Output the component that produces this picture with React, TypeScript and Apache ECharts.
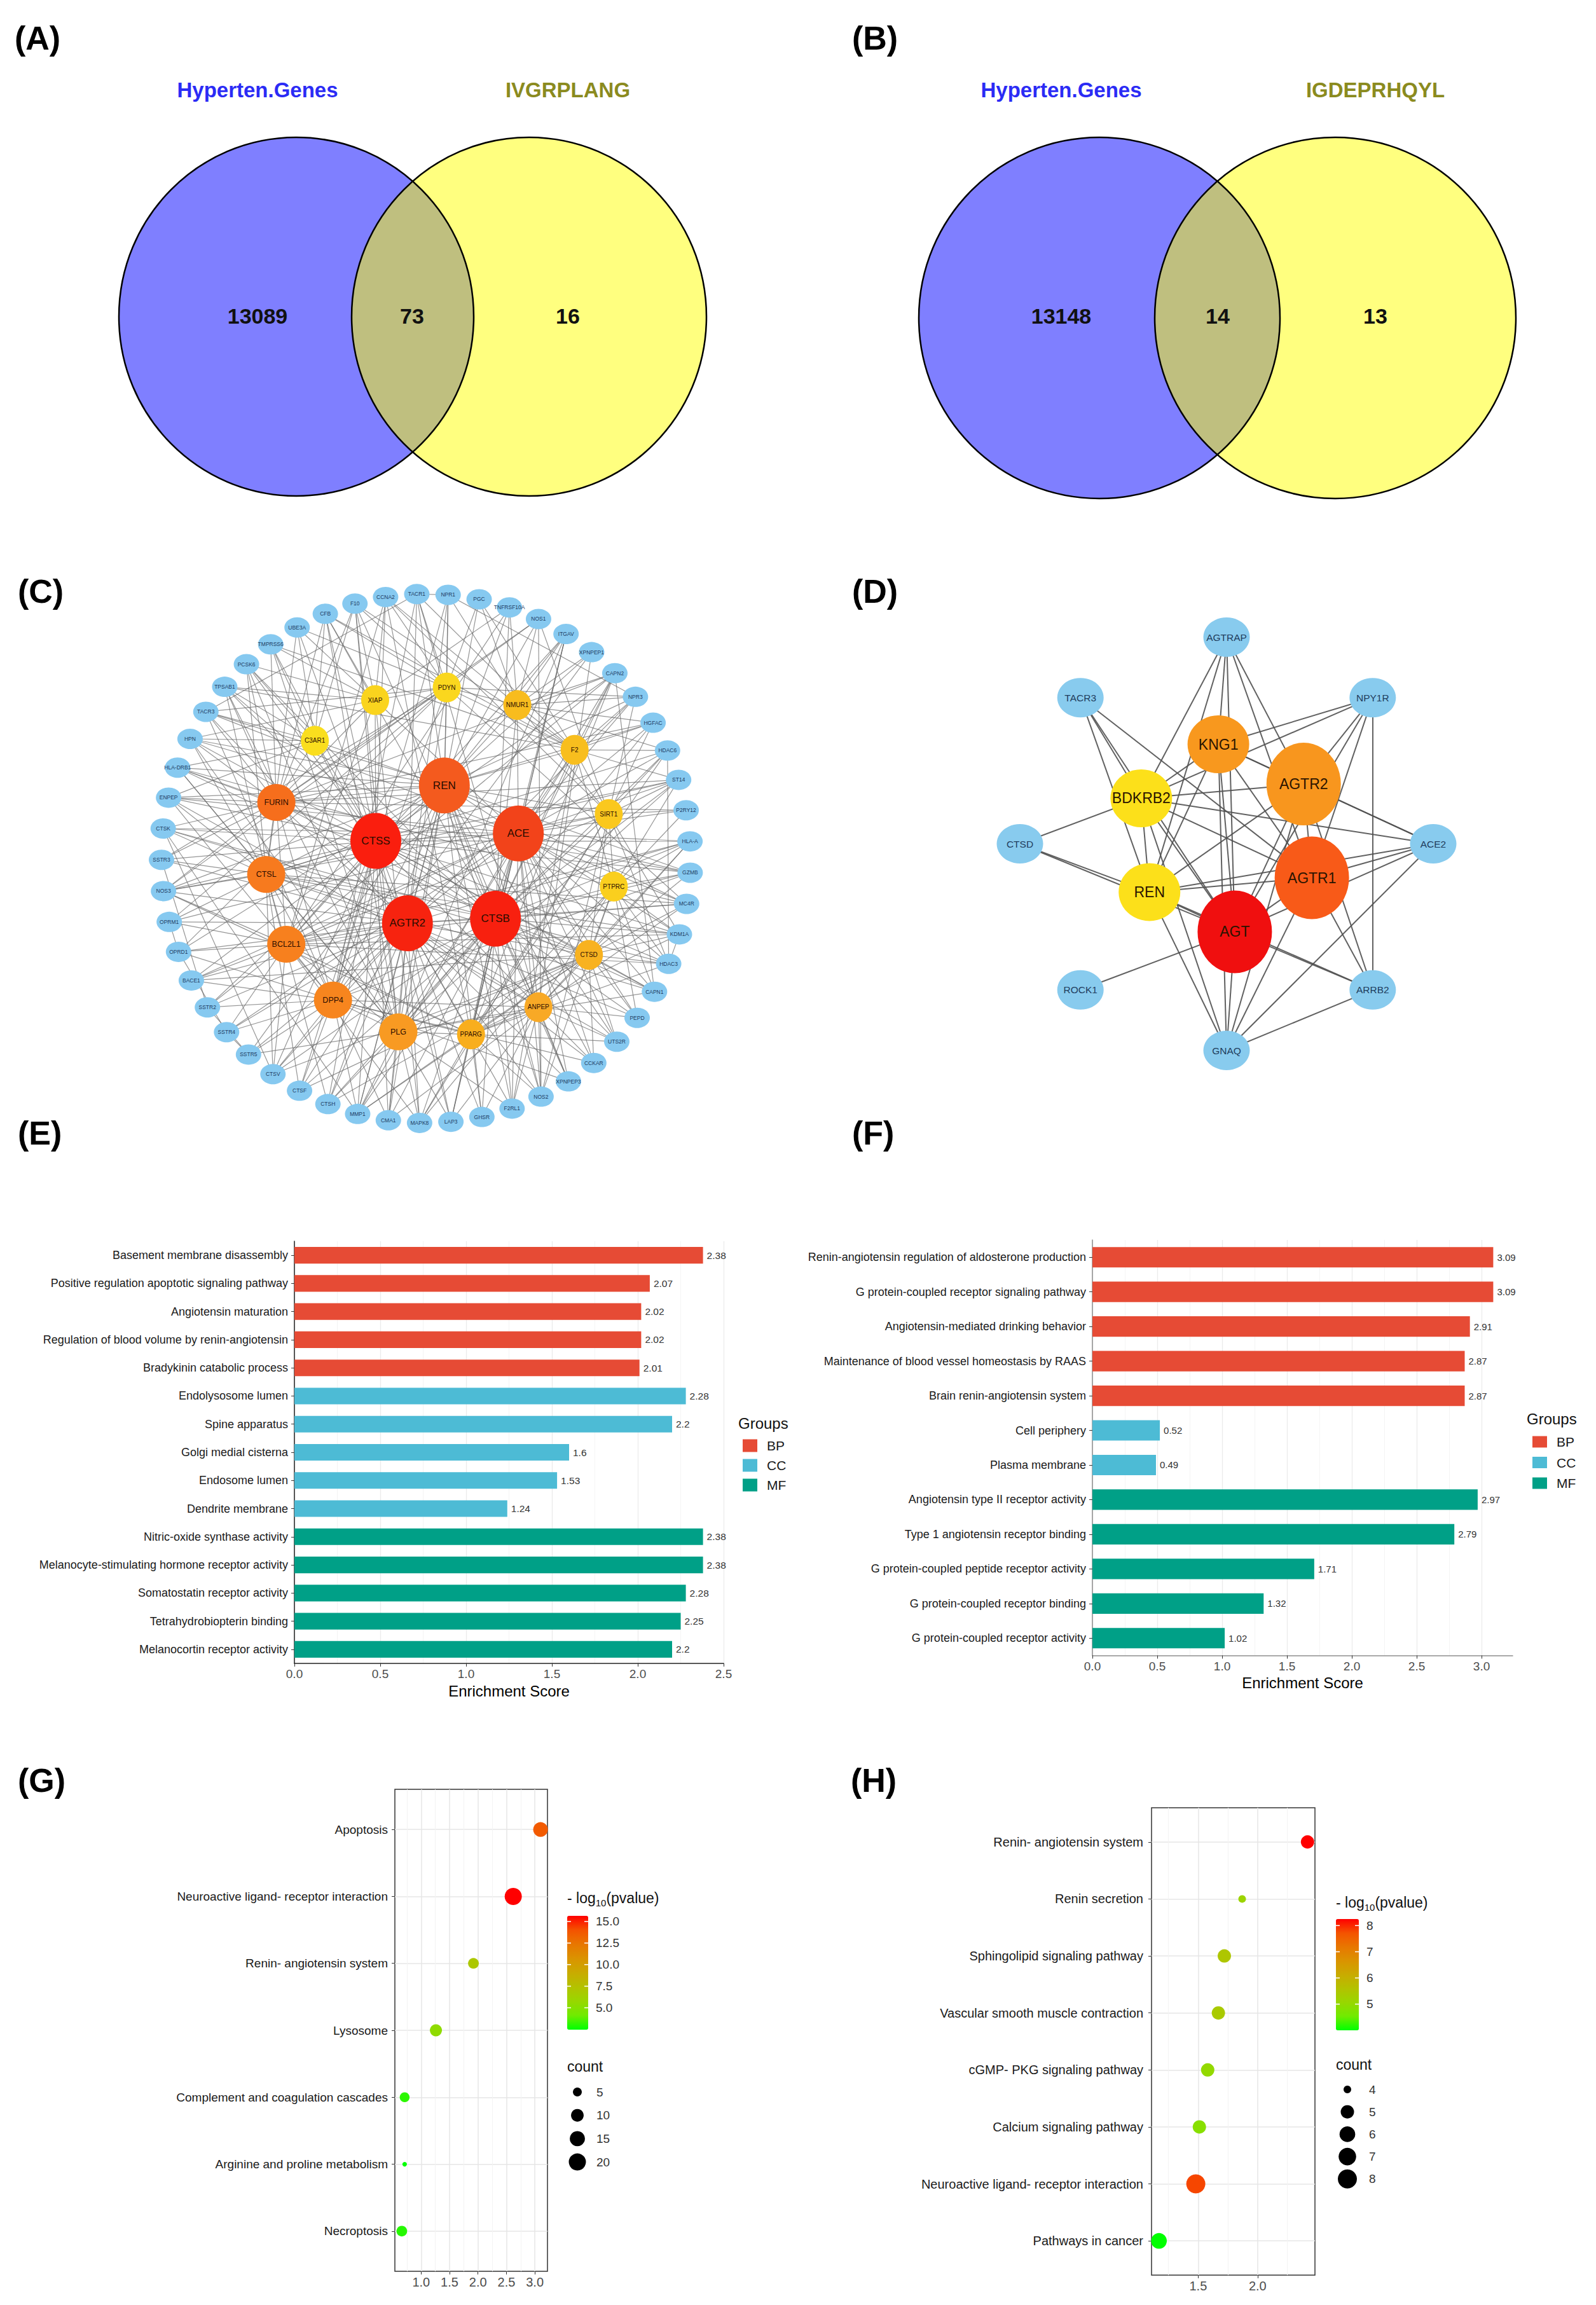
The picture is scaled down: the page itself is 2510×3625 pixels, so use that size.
import React, { useEffect, useRef } from 'react';
import * as echarts from 'echarts';

const W = 2510;
const H = 3625;
const FONT = 'Liberation Sans';

// ---------------- (A) / (B) Venn data ----------------
const vennSetsA = ['Hyperten.Genes', 'IVGRPLANG'];
const vennCountsA = [13089, 73, 16];
const vennSetsB = ['Hyperten.Genes', 'IGDEPRHQYL'];
const vennCountsB = [13148, 14, 13];

// ---------------- (C) PPI network ----------------
const cCore = ['CTSS', 'REN', 'ACE', 'CTSB', 'AGTR2'];
const cMiddle = ['XIAP', 'PDYN', 'NMUR1', 'F2', 'SIRT1', 'PTPRC', 'CTSD', 'ANPEP', 'PPARG', 'PLG', 'DPP4', 'BCL2L1', 'CTSL', 'FURIN', 'C3AR1'];
const cOuter = ['TACR1', 'NPR1', 'PGC', 'TNFRSF10A', 'NOS1', 'ITGAV', 'XPNPEP1', 'CAPN2', 'NPR3', 'HGFAC', 'HDAC6', 'ST14', 'P2RY12', 'HLA-A', 'GZMB', 'MC4R', 'KDM1A', 'HDAC3', 'CAPN1', 'PEPD', 'UTS2R', 'CCKAR', 'XPNPEP3', 'NOS2', 'F2RL1', 'GHSR', 'LAP3', 'MAPK8', 'CMA1', 'MMP1', 'CTSH', 'CTSF', 'CTSV', 'SSTR5', 'SSTR4', 'SSTR2', 'BACE1', 'OPRD1', 'OPRM1', 'NOS3', 'SSTR3', 'CTSK', 'ENPEP', 'HLA-DRB1', 'HPN', 'TACR3', 'TPSAB1', 'PCSK6', 'TMPRSS6', 'UBE3A', 'CFB', 'F10', 'CCNA2'];
const cEdgeText = `
CTSS: REN ACE CTSB AGTR2 FURIN CTSL BCL2L1 DPP4 PLG CTSD ANPEP C3AR1 XIAP HLA-DRB1 ENPEP CTSK SSTR3 NOS3 BACE1 CTSV CTSF CTSH MMP1 CMA1 LAP3 CAPN1 CAPN2 HDAC3 GZMB TPSAB1 PCSK6 TMPRSS6 CFB F10 CCNA2 HPN HLA-A UBE3A KDM1A ST14
REN: ACE CTSB AGTR2 FURIN CTSL PDYN NMUR1 F2 SIRT1 PLG DPP4 ENPEP TACR1 NPR1 PGC TNFRSF10A NOS1 ITGAV XPNPEP1 NPR3 HGFAC MC4R CMA1 CTSH HPN TACR3 CCKAR UTS2R GHSR F2RL1 NOS2 NOS3 OPRD1 SSTR2 SSTR5 HLA-DRB1 XPNPEP3 MMP1
ACE: CTSB AGTR2 F2 SIRT1 PTPRC CTSD ANPEP PPARG NMUR1 XIAP BCL2L1 HDAC6 ST14 P2RY12 HLA-A GZMB MC4R KDM1A HDAC3 CAPN1 PEPD UTS2R CCKAR XPNPEP3 NOS2 F2RL1 LAP3 MAPK8 ENPEP HGFAC NPR3 CAPN2 ITGAV TACR3 HPN CTSK SSTR4 OPRM1 BACE1 MMP1
AGTR2: CTSB FURIN CTSL BCL2L1 DPP4 PLG PPARG ANPEP CTSD PDYN C3AR1 SSTR3 NOS3 OPRM1 OPRD1 BACE1 SSTR2 SSTR4 SSTR5 CTSV CTSF CTSH MMP1 CMA1 MAPK8 LAP3 GHSR F2RL1 NOS2 XPNPEP3 CCKAR UTS2R PEPD TACR1 TACR3 NPR1 NPR3 MC4R HLA-A
CTSB: FURIN CTSL BCL2L1 DPP4 PLG PPARG ANPEP CTSD PTPRC SIRT1 F2 NMUR1 CTSK CTSV CTSF CTSH MMP1 CMA1 LAP3 CAPN1 CAPN2 HDAC3 HDAC6 KDM1A GZMB MC4R UTS2R PEPD GHSR NOS2 F2RL1 XPNPEP3 HLA-DRB1 HLA-A ST14 TNFRSF10A CFB F10 PCSK6 TPSAB1 ITGAV
FURIN: CTSL BCL2L1 DPP4 C3AR1 XIAP PDYN HLA-DRB1 ENPEP CTSK SSTR3 NOS3 HPN TACR3 TPSAB1 PCSK6 TMPRSS6 F10 CFB ST14 HGFAC CAPN2 NOS1 P2RY12 GZMB
CTSL: BCL2L1 DPP4 PLG CTSK ENPEP HLA-DRB1 NOS3 OPRM1 SSTR3 CTSV CTSF CTSH HPN TPSAB1 PCSK6 UBE3A CAPN1 HDAC6 ST14 MC4R KDM1A
BCL2L1: DPP4 PLG PPARG SIRT1 XIAP OPRM1 OPRD1 BACE1 NOS3 SSTR2 SSTR4 CTSV MAPK8 HDAC3 KDM1A CCNA2 HLA-A ITGAV CAPN2 TNFRSF10A
DPP4: PLG PPARG ANPEP OPRD1 BACE1 SSTR2 SSTR4 SSTR5 CTSV CTSF CMA1 MMP1 NPR1 PDYN TACR1 TACR3 CCKAR ENPEP XPNPEP1 XPNPEP3 GZMB
PLG: PPARG ANPEP CTSD F2 SSTR5 CTSH MMP1 CMA1 MAPK8 LAP3 F2RL1 F10 CFB HGFAC ST14 PCSK6 TMPRSS6 HPN ITGAV TPSAB1 CAPN1 HLA-DRB1
PPARG: ANPEP CTSD SIRT1 MAPK8 LAP3 GHSR NOS2 NOS3 HDAC3 HDAC6 KDM1A CCNA2 MMP1 PTPRC ITGAV CAPN2 UTS2R
ANPEP: CTSD PTPRC XPNPEP3 XPNPEP1 NOS2 F2RL1 GHSR LAP3 PEPD CCKAR UTS2R ENPEP CMA1 MC4R HLA-A TACR1
CTSD: PTPRC SIRT1 CAPN1 PEPD UTS2R CCKAR HDAC3 KDM1A MC4R GZMB HLA-A CTSK CTSV CTSF CTSH BACE1 MMP1
PTPRC: SIRT1 F2 HLA-A GZMB MC4R KDM1A HDAC3 P2RY12 ST14 HLA-DRB1 CAPN1 NOS2 MAPK8 PEPD
SIRT1: F2 NMUR1 HDAC6 HDAC3 KDM1A P2RY12 ST14 HGFAC NOS3 NOS1 NOS2 MAPK8 CCNA2 NPR3
F2: NMUR1 PDYN F2RL1 F10 HGFAC ST14 HDAC6 CAPN2 NPR3 TACR1 PGC CFB TMPRSS6 TPSAB1
NMUR1: PDYN NPR3 CAPN2 XPNPEP1 ITGAV NOS1 TNFRSF10A PGC NPR1 HGFAC HDAC6 CCNA2
PDYN: XIAP TACR1 NPR1 PGC CCNA2 F10 CFB OPRM1 OPRD1 TACR3 MC4R SSTR3 NPR3 UBE3A
XIAP: C3AR1 CCNA2 F10 CFB UBE3A TMPRSS6 PCSK6 TPSAB1 TNFRSF10A HPN MAPK8
C3AR1: CFB F10 UBE3A TMPRSS6 HPN TACR3 HLA-DRB1 ENPEP TPSAB1 PCSK6 GZMB
TACR1: TACR3 NPR1
SSTR2: SSTR3 SSTR5
SSTR4: SSTR5 OPRD1
OPRM1: OPRD1
NPR1: NPR3
CTSK: CTSV MMP1
HDAC3: HDAC6 KDM1A
NOS1: NOS2 NOS3
CAPN1: CAPN2
`;

// ---------------- (D) hub network ----------------
const dInner = ['KNG1', 'AGTR2', 'AGTR1', 'AGT', 'REN', 'BDKRB2'];
const dOuter = ['AGTRAP', 'NPY1R', 'ACE2', 'ARRB2', 'GNAQ', 'ROCK1', 'CTSD', 'TACR3'];
const dEdgeText = `
AGTRAP: KNG1 AGTR2 AGTR1 AGT REN BDKRB2
TACR3: BDKRB2 REN AGTR1 AGT
NPY1R: KNG1 BDKRB2 AGTR2 AGTR1 AGT ARRB2
CTSD: BDKRB2 REN AGT
ACE2: AGTR2 AGTR1 AGT REN BDKRB2 GNAQ KNG1
ROCK1: AGT
ARRB2: AGTR1 AGTR2 AGT GNAQ REN
GNAQ: AGT AGTR1 AGTR2 REN BDKRB2 KNG1
KNG1: BDKRB2 AGTR2 REN AGT AGTR1
BDKRB2: REN AGT AGTR2 AGTR1
REN: AGT AGTR1 AGTR2
AGT: AGTR1 AGTR2
AGTR1: AGTR2
`;

// ---------------- (E) GO enrichment (IVGRPLANG) ----------------
const groupNames = ['BP', 'CC', 'MF'];
const eTerms = [
  'Basement membrane disassembly',
  'Positive regulation apoptotic signaling pathway',
  'Angiotensin maturation',
  'Regulation of blood volume by renin-angiotensin',
  'Bradykinin catabolic process',
  'Endolysosome lumen',
  'Spine apparatus',
  'Golgi medial cisterna',
  'Endosome lumen',
  'Dendrite membrane',
  'Nitric-oxide synthase activity',
  'Melanocyte-stimulating hormone receptor activity',
  'Somatostatin receptor activity',
  'Tetrahydrobiopterin binding',
  'Melanocortin receptor activity',
];
const eScores = [2.38, 2.07, 2.02, 2.02, 2.01, 2.28, 2.2, 1.6, 1.53, 1.24, 2.38, 2.38, 2.28, 2.25, 2.2];
const eGroups = ['BP', 'BP', 'BP', 'BP', 'BP', 'CC', 'CC', 'CC', 'CC', 'CC', 'MF', 'MF', 'MF', 'MF', 'MF'];
const eTicks = [0, 0.5, 1.0, 1.5, 2.0, 2.5];

// ---------------- (F) GO enrichment (IGDEPRHQYL) ----------------
const fTerms = [
  'Renin-angiotensin regulation of aldosterone production',
  'G protein-coupled receptor signaling pathway',
  'Angiotensin-mediated drinking behavior',
  'Maintenance of blood vessel homeostasis by RAAS',
  'Brain renin-angiotensin system',
  'Cell periphery',
  'Plasma membrane',
  'Angiotensin type II receptor activity',
  'Type 1 angiotensin receptor binding',
  'G protein-coupled peptide receptor activity',
  'G protein-coupled receptor binding',
  'G protein-coupled receptor activity',
];
const fScores = [3.09, 3.09, 2.91, 2.87, 2.87, 0.52, 0.49, 2.97, 2.79, 1.71, 1.32, 1.02];
const fGroups = ['BP', 'BP', 'BP', 'BP', 'BP', 'CC', 'CC', 'MF', 'MF', 'MF', 'MF', 'MF'];

// ---------------- (G) KEGG (IVGRPLANG) ----------------
const gTerms = [
  'Apoptosis',
  'Neuroactive ligand- receptor interaction',
  'Renin- angiotensin system',
  'Lysosome',
  'Complement and coagulation cascades',
  'Arginine and proline metabolism',
  'Necroptosis',
];
const gRatio = [3.1, 2.62, 1.92, 1.26, 0.71, 0.71, 0.66];
const gCount = [14, 20, 7, 9, 6, 3, 7];
const gLogP = [13.7, 15.65, 7.0, 5.4, 3.1, 2.46, 3.0];
const gCountBreaks = [5, 10, 15, 20];
const gColorBreaks = [5.0, 7.5, 10.0, 12.5, 15.0];

// ---------------- (H) KEGG (IGDEPRHQYL) ----------------
const hTerms = [
  'Renin- angiotensin system',
  'Renin secretion',
  'Sphingolipid signaling pathway',
  'Vascular smooth muscle contraction',
  'cGMP- PKG signaling pathway',
  'Calcium signaling pathway',
  'Neuroactive ligand- receptor interaction',
  'Pathways in cancer',
];
const hRatio = [2.42, 1.87, 1.72, 1.67, 1.58, 1.51, 1.48, 1.17];
const hCount = [5, 4, 5, 5, 5, 5, 8, 6];
const hLogP = [8.25, 5.15, 5.5, 5.4, 5.0, 4.85, 7.8, 4.0];
const hCountBreaks = [4, 5, 6, 7, 8];
const hColorBreaks = [5, 6, 7, 8];

// ---------------- styles ----------------
const groupColors: Record<string, string> = { BP: '#E64B35', CC: '#4DBBD5', MF: '#00A087' };
// green -> red gradient interpolated in Lab space (ggplot2 scale_colour_gradient)
const labGreenRed = ['#00FF00', '#70EB00', '#98D700', '#B3C200', '#C9AB00', '#DA9300', '#E87700', '#F45300', '#FF0000'];
const cBlue = '#86C9F0';
const cNodeColor: Record<string, string> = {
  CTSS: '#FA1E0E', AGTR2: '#F7230F', CTSB: '#F8200F', ACE: '#F2431A', REN: '#F45A1E',
  FURIN: '#F66E1C', CTSL: '#F77A1E', BCL2L1: '#F7801E', DPP4: '#F7851E', PLG: '#F89A22',
  PPARG: '#F8AE1E', ANPEP: '#F8A926', CTSD: '#F8B220', F2: '#F8BE1E', NMUR1: '#F8BC1E',
  SIRT1: '#FAC81E', PTPRC: '#FACF1E', PDYN: '#FAD71E', XIAP: '#FAD41E', C3AR1: '#FADE1E',
};
const cMidLarge = ['FURIN', 'CTSL', 'BCL2L1', 'DPP4', 'PLG'];
const dNodeColor: Record<string, string> = {
  AGT: '#F00F0F', AGTR1: '#F85A18', AGTR2: '#F8961E', KNG1: '#F8981E', BDKRB2: '#FCE01A', REN: '#FCE01A',
};
const dBig = ['AGT', 'AGTR1', 'AGTR2'];
const dBlue = '#88CBEE';

// ---------------- helpers ----------------
function parseEdges(text: string, valid: Set<string>): [string, string][] {
  const seen = new Set<string>();
  const out: [string, string][] = [];
  text.trim().split('\n').forEach((line) => {
    const [hub, rest] = line.split(':');
    const a = hub.trim();
    rest.trim().split(/\s+/).forEach((b) => {
      if (!b || a === b || !valid.has(a) || !valid.has(b)) return;
      const key = a < b ? a + '|' + b : b + '|' + a;
      if (seen.has(key)) return;
      seen.add(key);
      out.push([a, b]);
    });
  });
  return out;
}

function ring(names: string[], cx: number, cy: number, r: number, startDeg: number, stepDeg?: number) {
  const step = stepDeg ?? 360 / names.length;
  return names.map((name, i) => {
    const a = ((startDeg + i * step) * Math.PI) / 180;
    return { name, x: cx + r * Math.cos(a), y: cy + r * Math.sin(a) };
  });
}

function expand(vals: number[], f = 0.05): [number, number] {
  const mn = Math.min(...vals);
  const mx = Math.max(...vals);
  const r = mx - mn;
  return [mn - f * r, mx + f * r];
}

function stepTicks(min: number, max: number, step: number) {
  const out: number[] = [];
  for (let k = Math.ceil(min / step - 1e-9); k * step <= max + 1e-9; k++) out.push(+(k * step).toFixed(6));
  return out;
}

const isMult = (v: number, s: number) => Math.abs(v / s - Math.round(v / s)) < 1e-6;

function sizeScale(counts: number[], dMin: number, dMax: number) {
  const mn = Math.min(...counts);
  const mx = Math.max(...counts);
  return (c: number) => dMin + (dMax - dMin) * Math.sqrt(Math.max(0, (c - mn) / (mx - mn)));
}

type GNode = { name: string; x: number; y: number; size: number[]; color: string; fontSize: number; labelColor: string };

function graphSeries(nodes: GNode[], edges: [string, string][], lineStyle: any) {
  const xs = nodes.map((n) => n.x);
  const ys = nodes.map((n) => n.y);
  const minX = Math.min(...xs), maxX = Math.max(...xs), minY = Math.min(...ys), maxY = Math.max(...ys);
  return {
    type: 'graph',
    layout: 'none',
    left: minX,
    top: minY,
    width: maxX - minX,
    height: maxY - minY,
    roam: false,
    silent: true,
    symbol: 'circle',
    emphasis: { disabled: true },
    data: nodes.map((n) => ({
      name: n.name,
      x: n.x,
      y: n.y,
      symbolSize: n.size,
      itemStyle: { color: n.color, borderWidth: 0 },
      label: { show: true, position: 'inside', fontSize: n.fontSize, color: n.labelColor, fontFamily: FONT },
    })),
    links: edges.map(([s, t]) => ({ source: s, target: t })),
    lineStyle,
  };
}

function txt(text: string, x: number, y: number, opts: any = {}) {
  const align = opts.align ?? 'center';
  return {
    type: 'text',
    z: opts.z ?? 50,
    style: {
      text,
      x,
      y,
      fill: opts.color ?? '#000',
      fontSize: opts.size ?? 20,
      fontWeight: opts.weight ?? 'normal',
      fontFamily: FONT,
      align,
      textAlign: align,
      verticalAlign: 'middle',
      textVerticalAlign: 'middle',
      rich: opts.rich,
    },
  };
}

function buildOption() {
  const graphic: any[] = [];

  // ---------- panel letters ----------
  const letters: [string, number, number][] = [
    ['(A)', 23, 60], ['(B)', 1340, 60], ['(C)', 28, 930], ['(D)', 1340, 930],
    ['(E)', 28, 1782], ['(F)', 1340, 1782], ['(G)', 28, 2800], ['(H)', 1338, 2800],
  ];
  letters.forEach(([t, x, y]) => graphic.push(txt(t, x, y, { size: 52, weight: 'bold', align: 'left' })));

  // ---------- Venn diagrams ----------
  const venn = (sets: string[], counts: number[], cxL: number, cxR: number, cy: number, rx: number, ry: number, labelX: number[]) => {
    graphic.push({ type: 'ellipse', shape: { cx: cxL, cy, rx, ry }, style: { fill: 'rgba(0,0,255,0.5)', stroke: 'none' }, z: 1 });
    graphic.push({ type: 'ellipse', shape: { cx: cxR, cy, rx, ry }, style: { fill: 'rgba(255,255,0,0.5)', stroke: 'none' }, z: 2 });
    graphic.push({ type: 'ellipse', shape: { cx: cxL, cy, rx, ry }, style: { fill: 'none', stroke: '#000', lineWidth: 2.5 }, z: 3 });
    graphic.push({ type: 'ellipse', shape: { cx: cxR, cy, rx, ry }, style: { fill: 'none', stroke: '#000', lineWidth: 2.5 }, z: 3 });
    graphic.push(txt(sets[0], labelX[0], 141, { size: 33, weight: 'bold', color: '#2B2BF5' }));
    graphic.push(txt(sets[1], labelX[2], 141, { size: 33, weight: 'bold', color: '#8B8B1F' }));
    counts.forEach((c, i) => graphic.push(txt(String(c), labelX[i], 497, { size: 34, weight: 'bold', color: '#111' })));
  };
  venn(vennSetsA, vennCountsA, 466, 832, 498, 279, 282, [405, 648, 893]);
  venn(vennSetsB, vennCountsB, 1729, 2100, 500, 284, 284, [1669, 1915, 2163]);

  // ---------- E / F legends titles ----------
  graphic.push(txt('Groups', 1161, 2238, { size: 24, align: 'left', color: '#111' }));
  graphic.push(txt('Groups', 2401, 2231, { size: 24, align: 'left', color: '#111' }));

  // ---------- G / H legends ----------
  const gColorExt = [Math.min(...gLogP), Math.max(...gLogP)];
  const hColorExt = [Math.min(...hLogP), Math.max(...hLogP)];
  const gSize = sizeScale(gCount, 7.2, 27);
  const hSize = sizeScale(hCount, 12, 30);

  const bubbleLegend = (
    titleX: number, titleY: number, barLeft: number, barTop: number, barW: number, barH: number,
    ext: number[], breaks: number[], fmt: (v: number) => string,
    countY: number, circX: number, circY0: number, circStep: number, countBreaks: number[], size: (c: number) => number, labX: number,
  ) => {
    graphic.push(txt('- log{s|10}(pvalue)', titleX, titleY, {
      size: 23, align: 'left', color: '#111',
      rich: { s: { fontSize: 15, verticalAlign: 'bottom', lineHeight: 30, fontFamily: FONT, fill: '#111', color: '#111' } },
    }));
    breaks.forEach((v) => {
      const y = barTop + ((ext[1] - v) / (ext[1] - ext[0])) * barH;
      graphic.push(txt(fmt(v), barLeft + barW + 12, y, { size: 19, align: 'left', color: '#333' }));
      graphic.push({ type: 'line', z: 100, shape: { x1: barLeft, y1: y, x2: barLeft + 6, y2: y }, style: { stroke: '#fff', lineWidth: 1.5 } });
      graphic.push({ type: 'line', z: 100, shape: { x1: barLeft + barW - 6, y1: y, x2: barLeft + barW, y2: y }, style: { stroke: '#fff', lineWidth: 1.5 } });
    });
    graphic.push(txt('count', titleX, countY, { size: 23, align: 'left', color: '#111' }));
    countBreaks.forEach((c, i) => {
      const cy = circY0 + i * circStep;
      graphic.push({ type: 'circle', shape: { cx: circX, cy, r: size(c) / 2 }, style: { fill: '#000' } });
      graphic.push(txt(String(c), labX, cy, { size: 19, align: 'left', color: '#333' }));
    });
  };
  bubbleLegend(892, 2985, 892, 3013, 33, 179, gColorExt, gColorBreaks, (v) => v.toFixed(1),
    3250, 908, 3290, 36.7, gCountBreaks, gSize, 938);
  bubbleLegend(2101, 2992, 2101, 3018, 36, 175, hColorExt, hColorBreaks, (v) => String(v),
    3247, 2119, 3286, 35.2, hCountBreaks, hSize, 2153);

  // ---------- network nodes ----------
  const cPos = [
    ...ring(cOuter, 670, 1350, 416, -92),
    ...ring(cMiddle, 693, 1356, 275, -112),
    ...ring(cCore, 705, 1353, 118, -165),
  ];
  const cNodes: GNode[] = cPos.map((p) => {
    const core = cCore.includes(p.name);
    const mid = cMiddle.includes(p.name);
    const large = cMidLarge.includes(p.name);
    return {
      ...p,
      size: core ? [80, 88] : mid ? (large ? [60, 58] : [44, 47]) : [40, 32],
      color: core || mid ? cNodeColor[p.name] : cBlue,
      fontSize: core ? 17 : mid ? (large ? 12.5 : 10) : 8.5,
      labelColor: core || mid ? '#2a0c00' : '#1d3a5f',
    };
  });
  const cEdges = parseEdges(cEdgeText, new Set(cNodes.map((n) => n.name)));

  const dPos = [...ring(dOuter, 1929, 1327, 325, -90), ...ring(dInner, 1929, 1318, 148, -95, 60)];
  const dNodes: GNode[] = dPos.map((p) => {
    const inner = dInner.includes(p.name);
    return {
      ...p,
      size: inner ? (dBig.includes(p.name) ? [117, 130] : [97, 91]) : [73, 62],
      color: inner ? dNodeColor[p.name] : dBlue,
      fontSize: inner ? 23 : 15.5,
      labelColor: inner ? '#2a1400' : '#1f3c5c',
    };
  });
  const dEdges = parseEdges(dEdgeText, new Set(dNodes.map((n) => n.name)));

  // ---------- axes ----------
  const gX = expand(gRatio);
  const hX = expand(hRatio);
  const gXTicks = stepTicks(gX[0], gX[1], 0.5);
  const hXTicks = stepTicks(hX[0], hX[1], 0.5);
  const gYTicks = gTerms.map((_, i) => i);
  const hYTicks = hTerms.map((_, i) => i);

  const barX = (gridIndex: number, max: number, axisColor: string, tickLabels: number[]) => ({
    gridIndex,
    type: 'value',
    min: 0,
    max,
    interval: 0.5,
    axisLine: { show: true, onZero: false, lineStyle: { color: axisColor, width: 1.5 } },
    axisTick: { show: true, length: 5, lineStyle: { color: '#333' }, customValues: tickLabels },
    axisLabel: {
      fontSize: 19, color: '#4D4D4D', margin: 7, fontFamily: FONT, customValues: tickLabels,
      formatter: (v: number) => (isMult(v, 0.5) ? v.toFixed(1) : ''),
    },
    splitLine: { show: true, lineStyle: { color: '#EBEBEB', width: 1.3 } },
    minorTick: { show: false, splitNumber: 2 },
    minorSplitLine: { show: true, lineStyle: { color: '#F4F4F4', width: 1 } },
    name: 'Enrichment Score',
    nameLocation: 'middle',
    nameGap: 31,
    nameTextStyle: { fontSize: 24, color: '#000', fontFamily: FONT },
  });
  const barY = (gridIndex: number, data: string[], axisColor: string) => ({
    gridIndex,
    type: 'category',
    data,
    inverse: true,
    axisLine: { show: true, onZero: false, lineStyle: { color: axisColor, width: 1.5 } },
    axisTick: { show: true, length: 5, alignWithLabel: true, lineStyle: { color: '#333' } },
    axisLabel: { fontSize: 18, color: '#1a1a1a', margin: 10, fontFamily: FONT },
    splitLine: { show: false },
  });
  const dotX = (gridIndex: number, ext: number[], ticks: number[]) => ({
    gridIndex,
    type: 'value',
    position: 'bottom',
    min: ext[0],
    max: ext[1],
    minInterval: 0.5,
    maxInterval: 0.5,
    axisLine: { show: false, onZero: false },
    axisTick: { show: true, length: 5, lineStyle: { color: '#333' }, customValues: ticks },
    axisLabel: {
      fontSize: 20, color: '#4D4D4D', margin: 7, fontFamily: FONT, customValues: ticks,
      formatter: (v: number) => (isMult(v, 0.5) ? v.toFixed(1) : ''),
    },
    splitLine: { show: true, lineStyle: { color: '#E6E6E6', width: 1.5 } },
    minorTick: { show: false, splitNumber: 2 },
    minorSplitLine: { show: true, lineStyle: { color: '#F3F3F3', width: 1 } },
  });
  const dotY = (gridIndex: number, terms: string[], ticks: number[], margin: number, fontSize: number) => ({
    gridIndex,
    type: 'value',
    position: 'left',
    inverse: true,
    min: -0.6,
    max: terms.length - 1 + 0.6,
    minInterval: 1,
    maxInterval: 1,
    axisLine: { show: false, onZero: false },
    axisTick: { show: true, length: 5, lineStyle: { color: '#333' }, customValues: ticks },
    axisLabel: {
      fontSize, color: '#1a1a1a', margin, fontFamily: FONT, customValues: ticks,
      formatter: (v: number) => (isMult(v, 1) && terms[Math.round(v)] ? terms[Math.round(v)] : ''),
    },
    splitLine: { show: true, lineStyle: { color: '#E6E6E6', width: 1.5 } },
  });

  const barSeries = (axis: number, terms: string[], scores: number[], groups: string[], labelSize: number) =>
    groupNames.map((g) => ({
      type: 'bar',
      name: g,
      xAxisIndex: axis,
      yAxisIndex: axis,
      barWidth: '59%',
      barGap: '-100%',
      silent: true,
      itemStyle: { color: groupColors[g] },
      label: { show: true, position: 'right', distance: 6, fontSize: labelSize, color: '#333', fontFamily: FONT },
      data: scores.map((v, i) => (groups[i] === g ? v : '-')),
    }));

  const series: any[] = [
    ...barSeries(0, eTerms, eScores, eGroups, 15.5),
    ...barSeries(1, fTerms, fScores, fGroups, 15),
    {
      type: 'scatter', name: 'G', xAxisIndex: 2, yAxisIndex: 2, silent: true,
      data: gTerms.map((_, i) => [gRatio[i], i, gCount[i], gLogP[i]]),
      symbolSize: (d: number[]) => gSize(d[2]),
      itemStyle: { opacity: 1 },
    },
    {
      type: 'scatter', name: 'H', xAxisIndex: 3, yAxisIndex: 3, silent: true,
      data: hTerms.map((_, i) => [hRatio[i], i, hCount[i], hLogP[i]]),
      symbolSize: (d: number[]) => hSize(d[2]),
      itemStyle: { opacity: 1 },
    },
    graphSeries(cNodes, cEdges, { color: '#6a6a6a', width: 1.2, opacity: 0.7 }),
    graphSeries(dNodes, dEdges, { color: '#505050', width: 2, opacity: 0.9 }),
  ];

  return {
    animation: false,
    backgroundColor: '#fff',
    textStyle: { fontFamily: FONT },
    grid: [
      { left: 463, top: 1952, width: 675, height: 664, show: false },
      { left: 1718, top: 1950, width: 661, height: 653.5, show: false },
      { left: 621, top: 2814, width: 240, height: 758, show: true, borderColor: '#333', borderWidth: 1.5, backgroundColor: 'transparent' },
      { left: 1811, top: 2843, width: 257, height: 735, show: true, borderColor: '#333', borderWidth: 1.5, backgroundColor: 'transparent' },
    ],
    xAxis: [
      barX(0, 2.5, '#222', eTicks),
      barX(1, 3.24, '#8c8c8c', stepTicks(0, 3.24, 0.5)),
      dotX(2, gX, gXTicks),
      dotX(3, hX, hXTicks),
    ],
    yAxis: [
      barY(0, eTerms, '#222'),
      barY(1, fTerms, '#8c8c8c'),
      dotY(2, gTerms, gYTicks, 11, 19),
      dotY(3, hTerms, hYTicks, 13, 20),
    ],
    legend: [
      {
        data: groupNames, orient: 'vertical', left: 1163, top: 2258, itemWidth: 23, itemHeight: 20, itemGap: 10,
        icon: 'rect', selectedMode: false,
        textStyle: { fontSize: 21, color: '#1a1a1a', fontFamily: FONT, lineHeight: 20, padding: [0, 0, 0, 10] },
      },
      {
        data: groupNames, orient: 'vertical', left: 2405, top: 2252, itemWidth: 23, itemHeight: 18, itemGap: 11.5,
        icon: 'rect', selectedMode: false,
        textStyle: { fontSize: 21, color: '#1a1a1a', fontFamily: FONT, lineHeight: 18, padding: [0, 0, 0, 10] },
      },
    ],
    visualMap: [
      {
        type: 'continuous', seriesIndex: 6, dimension: 3, min: gColorExt[0], max: gColorExt[1],
        inRange: { color: labGreenRed }, calculable: false, show: true, left: 892, top: 3013,
        itemWidth: 33, itemHeight: 179, padding: 0, text: null, hoverLink: false, realtime: false,
      },
      {
        type: 'continuous', seriesIndex: 7, dimension: 3, min: hColorExt[0], max: hColorExt[1],
        inRange: { color: labGreenRed }, calculable: false, show: true, left: 2101, top: 3018,
        itemWidth: 36, itemHeight: 175, padding: 0, text: null, hoverLink: false, realtime: false,
      },
    ],
    graphic: { elements: graphic },
    series,
  };
}

export default function App() {
  const ref = useRef<HTMLDivElement>(null);
  useEffect(() => {
    document.body.style.margin = '0';
    if (!ref.current) return;
    const chart = echarts.init(ref.current, null, { renderer: 'svg', width: W, height: H });
    chart.setOption(buildOption() as any);
    return () => chart.dispose();
  }, []);
  return <div ref={ref} style={{ width: W, height: H, background: '#fff' }} />;
}
